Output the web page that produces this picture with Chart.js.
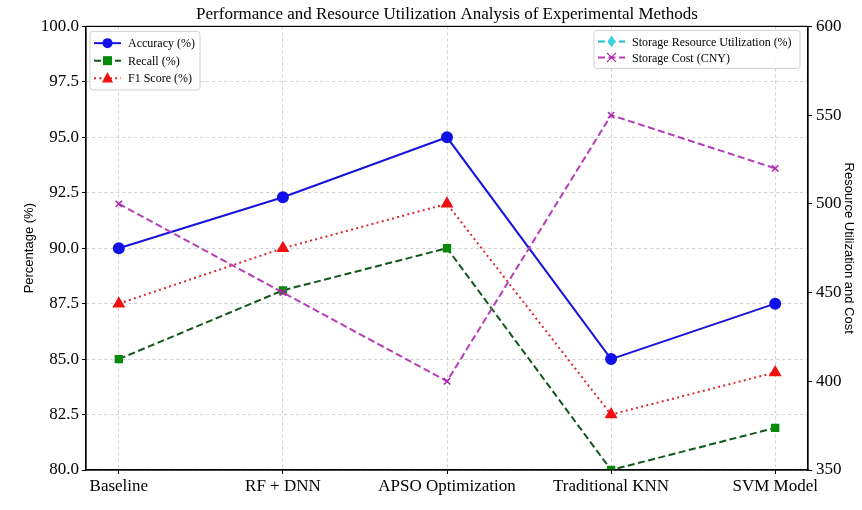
<!DOCTYPE html>
<html>
<head>
<meta charset="utf-8">
<script src="https://cdn.jsdelivr.net/npm/chart.js@4.4.1/dist/chart.umd.min.js"></script>
<style>
  html, body { margin: 0; padding: 0; background: #fff; }
  #wrap { width: 862px; height: 510px; }
</style>
</head>
<body>
<div id="wrap"><canvas id="perfChart" width="862" height="510"></canvas></div>
<script>
// values
const categories = ['Baseline', 'RF + DNN', 'APSO Optimization', 'Traditional KNN', 'SVM Model'];
const accuracy = [90.0, 92.3, 95.0, 85.0, 87.5];
const recall = [85.0, 88.1, 90.0, 80.0, 81.9];
const f1Score = [87.5, 90.0, 92.0, 82.5, 84.4];
// utilization sits below the right axis range, so it never shows on the plot
const storageUtil = [75, 80, 85, 70, 78];
const storageCost = [500, 450, 400, 550, 520];
const leftTicks = [80, 82.5, 85, 87.5, 90, 92.5, 95, 97.5, 100];
const rightTicks = [350, 400, 450, 500, 550, 600];

const serif = "'Liberation Serif', 'Times New Roman', serif";
const sans = "'Liberation Sans', Arial, sans-serif";

function toPoints(arr) {
  return arr.map((v, i) => ({ x: i, y: v }));
}

function drawMarker(ctx, style, x, y, r, fill, stroke) {
  ctx.save();
  ctx.setLineDash([]);
  ctx.fillStyle = fill;
  ctx.strokeStyle = stroke;
  ctx.lineWidth = 1.2;
  ctx.beginPath();
  if (style === 'circle') {
    ctx.arc(x, y, r, 0, Math.PI * 2);
    ctx.fill();
  } else if (style === 'rect') {
    ctx.rect(x - r, y - r, r * 2, r * 2);
    ctx.fill();
  } else if (style === 'triangle') {
    ctx.moveTo(x, y - r * 1.1);
    ctx.lineTo(x + r, y + r * 0.8);
    ctx.lineTo(x - r, y + r * 0.8);
    ctx.closePath();
    ctx.fill();
  } else if (style === 'rectRot') {
    ctx.moveTo(x, y - r * 1.2);
    ctx.lineTo(x + r * 0.8, y);
    ctx.lineTo(x, y + r * 1.2);
    ctx.lineTo(x - r * 0.8, y);
    ctx.closePath();
    ctx.fill();
  } else if (style === 'crossRot') {
    ctx.moveTo(x - r, y - r); ctx.lineTo(x + r, y + r);
    ctx.moveTo(x + r, y - r); ctx.lineTo(x - r, y + r);
    ctx.stroke();
  }
  ctx.restore();
}

// two matplotlib style legend boxes plus the closed frame
const frameAndLegends = {
  id: 'frameAndLegends',
  afterDatasetsDraw(chart) {
    const ctx = chart.ctx;
    const a = chart.chartArea;
    ctx.save();
    ctx.strokeStyle = '#000';
    ctx.lineWidth = 1.2;
    ctx.strokeRect(a.left, a.top, a.right - a.left, a.bottom - a.top);

    const drawBox = (x, y, w, rowH, idxs) => {
      const h = idxs.length * rowH + 6;
      ctx.save();
      ctx.fillStyle = 'rgba(255,255,255,0.85)';
      ctx.strokeStyle = '#d0d0d0';
      ctx.lineWidth = 1;
      ctx.beginPath();
      ctx.roundRect(x, y, w, h, 3);
      ctx.fill();
      ctx.stroke();
      ctx.font = '12px ' + serif;
      ctx.textBaseline = 'middle';
      idxs.forEach((di, k) => {
        const ds = chart.data.datasets[di];
        const cy = y + 3 + rowH / 2 + k * rowH;
        const lx = x + 4;
        ctx.save();
        ctx.strokeStyle = ds.borderColor;
        ctx.lineWidth = 2;
        ctx.setLineDash(ds.borderDash || []);
        ctx.beginPath();
        ctx.moveTo(lx, cy);
        ctx.lineTo(lx + 27, cy);
        ctx.stroke();
        ctx.restore();
        drawMarker(ctx, ds.pointStyle, lx + 13.5, cy, ds.pointRadius, ds.pointBackgroundColor, ds.pointBorderColor);
        ctx.fillStyle = '#000';
        ctx.fillText(ds.label, lx + 34, cy + 1);
      });
      ctx.restore();
    };
    drawBox(a.left + 4, a.top + 5, 110, 17.5, [0, 1, 2]);
    drawBox(a.right - 214, a.top + 4, 206, 16, [3, 4]);
    ctx.restore();
  }
};

const ctx = document.getElementById('perfChart').getContext('2d');
const perfChart = new Chart(ctx, {
  type: 'line',
  data: {
    datasets: [
      {
        label: 'Accuracy (%)',
        data: toPoints(accuracy),
        yAxisID: 'y',
        borderColor: '#1414dc',
        borderWidth: 2,
        pointStyle: 'circle',
        pointRadius: 5,
        pointBackgroundColor: '#1010e8',
        pointBorderColor: '#1010e8',
        order: 5
      },
      {
        label: 'Recall (%)',
        data: toPoints(recall),
        yAxisID: 'y',
        borderColor: '#11571a',
        borderWidth: 2,
        borderDash: [7, 3.5],
        pointStyle: 'rect',
        pointRadius: 4.5,
        pointBackgroundColor: '#078a0a',
        pointBorderColor: '#078a0a',
        order: 4
      },
      {
        label: 'F1 Score (%)',
        data: toPoints(f1Score),
        yAxisID: 'y',
        borderColor: '#e0262c',
        borderWidth: 2,
        borderDash: [2, 3.3],
        pointStyle: 'triangle',
        pointRadius: 5.5,
        pointBackgroundColor: '#f01010',
        pointBorderColor: '#f01010',
        order: 3
      },
      {
        label: 'Storage Resource Utilization (%)',
        data: toPoints(storageUtil),
        yAxisID: 'y2',
        borderColor: '#21b6c9',
        borderWidth: 2,
        borderDash: [7, 3.5],
        pointStyle: 'rectRot',
        pointRadius: 5,
        pointBackgroundColor: '#3cd0e0',
        pointBorderColor: '#3cd0e0',
        order: 2
      },
      {
        label: 'Storage Cost (CNY)',
        data: toPoints(storageCost),
        yAxisID: 'y2',
        borderColor: '#b73cb7',
        borderWidth: 2,
        borderDash: [7, 3.5],
        pointStyle: 'crossRot',
        pointRadius: 4.5,
        pointBackgroundColor: '#b020b0',
        pointBorderColor: '#b020b0',
        pointBorderWidth: 1.5,
        order: 1
      }
    ]
  },
  plugins: [frameAndLegends],
  options: {
    responsive: false,
    animation: false,
    devicePixelRatio: 1,
    layout: { padding: 0 },
    elements: { line: { tension: 0, fill: false } },
    plugins: {
      legend: { display: false },
      tooltip: { enabled: false },
      title: {
        display: true,
        fullSize: false,
        text: 'Performance and Resource Utilization Analysis of Experimental Methods',
        color: '#000',
        font: { family: serif, size: 17, weight: 'normal', lineHeight: 1.2 },
        padding: { top: 4, bottom: 2 }
      }
    },
    scales: {
      x: {
        type: 'linear',
        min: -0.2,
        max: 4.2,
        afterBuildTicks: (axis) => {
          axis.ticks = categories.map((c, i) => ({ value: i }));
        },
        afterFit: (axis) => { axis.height = 40; },
        ticks: {
          callback: (v) => categories[v],
          color: '#000',
          font: { family: serif, size: 17 },
          padding: 2,
          maxRotation: 0,
          autoSkip: false
        },
        grid: {
          color: 'rgba(176,176,176,0.75)',
          lineWidth: 0.8,
          tickColor: '#000',
          tickLength: 4,
          tickWidth: 1
        },
        border: { display: true, color: '#000', width: 1.2, dash: [3, 3] }
      },
      y: {
        position: 'left',
        min: 80,
        max: 100,
        afterBuildTicks: (axis) => {
          axis.ticks = leftTicks.map(v => ({ value: v }));
        },
        afterFit: (axis) => { axis.width = 86; },
        ticks: {
          callback: (v) => Number(v).toFixed(1),
          color: '#000',
          font: { family: serif, size: 17 },
          padding: 3
        },
        title: {
          display: true,
          text: 'Percentage (%)',
          color: '#000',
          font: { family: sans, size: 13 },
          padding: { top: 22, bottom: 0 }
        },
        grid: {
          color: 'rgba(176,176,176,0.75)',
          lineWidth: 0.8,
          tickColor: '#000',
          tickLength: 4,
          tickWidth: 1
        },
        border: { display: true, color: '#000', width: 1.2, dash: [3, 3] }
      },
      y2: {
        position: 'right',
        min: 350,
        max: 600,
        afterBuildTicks: (axis) => {
          axis.ticks = rightTicks.map(v => ({ value: v }));
        },
        afterFit: (axis) => { axis.width = 54; },
        ticks: {
          color: '#000',
          font: { family: serif, size: 17 },
          padding: 4
        },
        title: {
          display: true,
          text: 'Resource Utilization and Cost',
          color: '#000',
          font: { family: sans, size: 13 },
          padding: { top: 6, bottom: 0 }
        },
        grid: {
          drawOnChartArea: false,
          color: '#000',
          tickColor: '#000',
          tickLength: 4,
          tickWidth: 1
        },
        border: { display: true, color: '#000', width: 1.2 }
      }
    }
  }
});
</script>
</body>
</html>
